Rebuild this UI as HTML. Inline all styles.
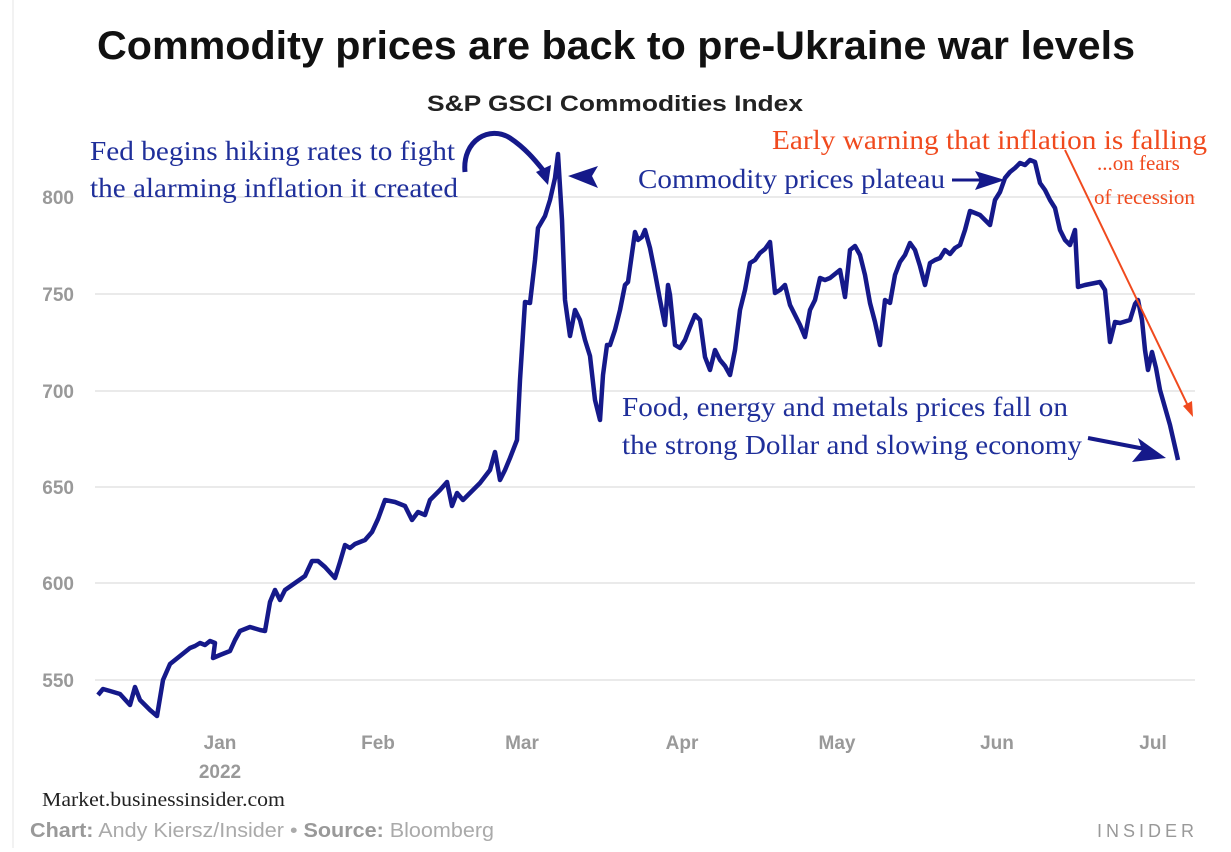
<!DOCTYPE html>
<html><head><meta charset="utf-8"><style>
html,body{margin:0;padding:0;background:#fff;}
svg{display:block;}
</style></head><body>
<svg width="1231" height="852" viewBox="0 0 1231 852" xmlns="http://www.w3.org/2000/svg">
<rect width="1231" height="852" fill="#fff"/>
<line x1="13" y1="0" x2="13" y2="848" stroke="#e6e6e6" stroke-width="1"/>
<text x="97" y="59" textLength="1038" lengthAdjust="spacingAndGlyphs" font-family="Liberation Sans, sans-serif" font-weight="bold" font-size="40" fill="#111">Commodity prices are back to pre-Ukraine war levels</text>
<text x="427" y="111" textLength="376" lengthAdjust="spacingAndGlyphs" font-family="Liberation Sans, sans-serif" font-weight="bold" font-size="22" fill="#222">S&amp;P GSCI Commodities Index</text>
<g stroke="#e3e3e3" stroke-width="1.5">
<line x1="95" y1="197" x2="1195" y2="197"/><line x1="95" y1="294" x2="1195" y2="294"/>
<line x1="95" y1="391" x2="1195" y2="391"/><line x1="95" y1="487" x2="1195" y2="487"/>
<line x1="95" y1="583" x2="1195" y2="583"/><line x1="95" y1="680" x2="1195" y2="680"/>
</g>
<g font-family="Liberation Sans, sans-serif" font-weight="bold" font-size="19" fill="#999" text-anchor="end">
<text x="74" y="204">800</text><text x="74" y="301">750</text><text x="74" y="398">700</text>
<text x="74" y="494">650</text><text x="74" y="590">600</text><text x="74" y="687">550</text>
</g>
<g font-family="Liberation Sans, sans-serif" font-weight="bold" font-size="19" fill="#999" text-anchor="middle">
<text x="220" y="749">Jan</text><text x="220" y="778">2022</text><text x="378" y="749">Feb</text>
<text x="522" y="749">Mar</text><text x="682" y="749">Apr</text><text x="837" y="749">May</text>
<text x="997" y="749">Jun</text><text x="1153" y="749">Jul</text>
</g>
<polyline fill="none" stroke="#15198a" stroke-width="4.5" stroke-linejoin="round" points="98,695 103,689 110,691 120,694 130,705 135,687 140,700 150,710 157,716 163,680 170,664 180,656 190,648 195,646 200,643 205,645 210,641 215,643 213,658 220,655 230,651 235,640 240,631 250,627 260,630 265,631 270,602 275,590 280,600 285,590 295,583 305,576 312,561 318,561 325,567 335,578 340,562 345,545 350,548 355,544 365,540 372,532 378,519 385,500 395,502 405,506 412,520 418,512 425,515 430,500 440,490 447,482 452,506 457,493 463,500 470,493 480,483 490,470 495,452 500,480 505,470 510,458 517,440 520,380 525,302 530,303 535,260 538,228 545,216 550,200 555,178 558,154 562,220 565,300 570,336 575,310 580,320 585,340 590,356 595,400 600,420 603,375 607,345 610,345 615,330 620,310 625,285 628,282 635,232 638,240 642,237 645,230 650,248 655,273 660,300 665,325 668,285 670,295 675,345 680,348 685,340 690,327 695,315 700,320 705,357 710,370 715,350 720,360 725,366 730,375 735,350 740,310 745,290 750,263 755,260 760,253 765,249 770,242 775,293 780,290 785,285 790,305 795,315 800,325 805,337 810,310 815,300 820,278 825,280 830,278 835,274 840,270 845,297 850,250 855,246 860,255 865,275 870,303 875,322 880,345 885,300 890,303 895,275 900,262 905,255 910,243 915,250 920,266 925,285 930,263 935,260 940,258 945,250 950,254 955,248 960,245 965,230 970,211 975,213 980,215 985,220 990,225 995,200 1000,192 1005,178 1010,172 1015,168 1020,163 1025,165 1030,160 1035,162 1040,183 1045,190 1050,200 1055,208 1060,230 1065,240 1070,245 1075,230 1078,287 1085,285 1095,283 1100,282 1105,290 1110,342 1115,322 1120,323 1130,320 1135,304 1138,300 1142,320 1145,350 1148,370 1152,352 1156,368 1160,390 1170,425 1178,460"/>
<g font-family="Liberation Serif, serif" font-size="27" fill="#1f2f9a" lengthAdjust="spacingAndGlyphs">
<text x="90" y="160" textLength="365" lengthAdjust="spacingAndGlyphs">Fed begins hiking rates to fight</text>
<text x="90" y="197" textLength="368" lengthAdjust="spacingAndGlyphs">the alarming inflation it created</text>
<text x="638" y="188" textLength="307" lengthAdjust="spacingAndGlyphs">Commodity prices plateau</text>
<text x="622" y="416" textLength="446" lengthAdjust="spacingAndGlyphs">Food, energy and metals prices fall on</text>
<text x="622" y="454" textLength="460" lengthAdjust="spacingAndGlyphs">the strong Dollar and slowing economy</text>
</g>
<g font-family="Liberation Serif, serif" fill="#f04a1e">
<text x="772" y="149" font-size="27" textLength="435" lengthAdjust="spacingAndGlyphs">Early warning that inflation is falling</text>
<text x="1097" y="170" font-size="21">...on fears</text>
<text x="1094" y="204" font-size="21">of recession</text>
</g>
<line x1="1065" y1="150" x2="1189" y2="408" stroke="#f04a1e" stroke-width="2"/>
<polygon points="1183,406 1193,417 1192,401" fill="#f04a1e"/>
<g fill="#15198a" stroke="#15198a">
<path d="M465,172 C462,140 490,125 510,138 C525,148 535,160 543,170" fill="none" stroke-width="5"/>
<polygon points="536,172 548,185 551,165" stroke="none"/>
<polygon points="568,176 598,166 592,176 598,188" stroke="none"/>
<polygon points="1005,180 975,171 980,180 975,190" stroke="none"/>
<line x1="952" y1="180" x2="985" y2="180" stroke-width="3"/>
<path d="M1088,438 L1150,450" stroke-width="4" fill="none"/>
<polygon points="1166,458 1138,438 1142,450 1132,462" stroke="none"/>
</g>
<text x="42" y="806" textLength="243" lengthAdjust="spacingAndGlyphs" font-family="Liberation Serif, serif" font-size="20" fill="#222">Market.businessinsider.com</text>
<text x="30" y="837" textLength="464" lengthAdjust="spacingAndGlyphs" font-family="Liberation Sans, sans-serif" font-size="20" fill="#aaa"><tspan font-weight="bold" fill="#999">Chart:</tspan> Andy Kiersz/Insider • <tspan font-weight="bold" fill="#999">Source:</tspan> Bloomberg</text>
<text x="1198" y="837" text-anchor="end" font-family="Liberation Sans, sans-serif" font-size="18" letter-spacing="4" fill="#999">INSIDER</text>
</svg>
</body></html>
